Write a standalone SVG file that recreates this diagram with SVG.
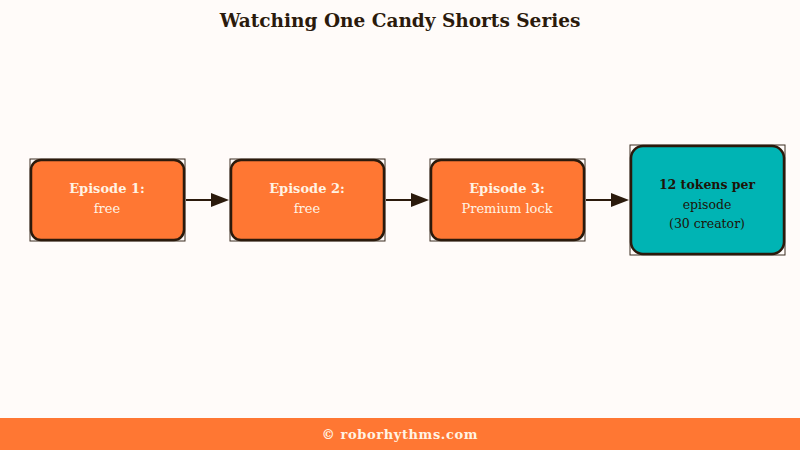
<svg xmlns="http://www.w3.org/2000/svg" width="800" height="450" viewBox="0 0 800 450">
<style>
text{font-family:"DejaVu Serif","Liberation Serif",serif;text-anchor:middle}
.frame{fill:none;stroke:#3a2c20;stroke-width:1}
.box{stroke:#2b1a0c;stroke-width:2.5}
.or{fill:#ff7733}
.tl{fill:#00b4b4}
.lt{fill:#fff3e4;font-size:13px}
.dk{fill:#1e1308;font-size:12.5px}
.b{font-weight:bold}
.edge{stroke:#2b1a0c;stroke-width:2;fill:none}
.ah{fill:#2b1a0c}
</style>
<rect width="800" height="450" fill="#fffbf9"/>
<text x="400" y="27" font-size="18.5" font-weight="bold" fill="#2b1a0c">Watching One Candy Shorts Series</text>
<g id="connectors">
<line class="edge" x1="186" y1="200" x2="212" y2="200"/>
<path class="ah" d="M211,193 L229,200 L211,207 z"/>
<line class="edge" x1="386" y1="200" x2="412" y2="200"/>
<path class="ah" d="M411,193 L429,200 L411,207 z"/>
<line class="edge" x1="586" y1="200" x2="612" y2="200"/>
<path class="ah" d="M611,193 L629,200 L611,207 z"/>
</g>
<g id="ep1">
<rect class="frame" x="30" y="159" width="155" height="82"/>
<rect class="box or" x="31" y="160" width="153" height="80" rx="10"/>
<text class="lt b" x="107" y="193">Episode 1:</text>
<text class="lt" x="107" y="213">free</text>
</g>
<g id="ep2">
<rect class="frame" x="230" y="159" width="155" height="82"/>
<rect class="box or" x="231" y="160" width="153" height="80" rx="10"/>
<text class="lt b" x="307" y="193">Episode 2:</text>
<text class="lt" x="307" y="213">free</text>
</g>
<g id="ep3">
<rect class="frame" x="430" y="159" width="155" height="82"/>
<rect class="box or" x="431" y="160" width="153" height="80" rx="10"/>
<text class="lt b" x="507" y="193">Episode 3:</text>
<text class="lt" x="507" y="213">Premium lock</text>
</g>
<g id="tokens">
<rect class="frame" x="630" y="145" width="155" height="110"/>
<rect class="box tl" x="631" y="146" width="153" height="108" rx="12"/>
<text class="dk b" x="707" y="189" font-size="13">12 tokens per</text>
<text class="dk" x="707" y="209">episode</text>
<text class="dk" x="707" y="228">(30 creator)</text>
</g>
<rect x="0" y="418" width="800" height="32" fill="#ff7733"/>
<text x="400" y="439" font-size="13" font-weight="bold" fill="#fff3e4" letter-spacing="0.6">© roborhythms.com</text>
</svg>
